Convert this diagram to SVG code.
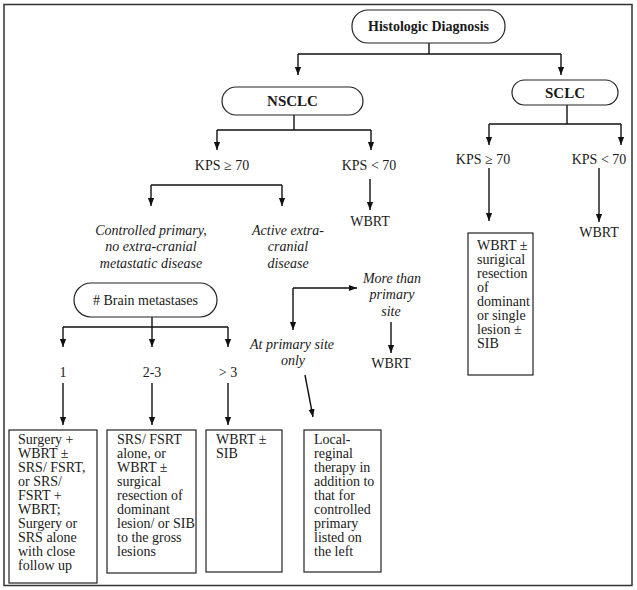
<svg xmlns="http://www.w3.org/2000/svg" width="637" height="590" viewBox="0 0 637 590" font-family="Liberation Serif, Times New Roman, serif" font-size="14">
<defs>
<marker id="ah" markerUnits="userSpaceOnUse" markerWidth="8" markerHeight="9" refX="9" refY="3.5" orient="auto" viewBox="0 0 9 7">
<path d="M0,0 L9,3.5 L0,7 z" fill="#111"/>
</marker>
<style>
text{font-family:"Liberation Serif","Times New Roman",serif;font-size:14px;fill:#1a1a1a}
.b{font-weight:bold;font-size:15px}
.h{font-size:14px}
.i{font-style:italic}
.c{text-anchor:middle}
.n{fill:#fff;stroke:#222;stroke-width:1.2}
.l{fill:none;stroke:#111;stroke-width:1.4}
.a{fill:none;stroke:#111;stroke-width:1.4;marker-end:url(#ah)}
</style>
</defs>
<rect x="0" y="0" width="637" height="590" fill="#fff"/>
<rect x="4" y="4.5" width="628" height="581" fill="none" stroke="#333" stroke-width="1.5"/>

<g id="connectors">
<path class="l" d="M429,43 V54 M298,54 H561"/>
<path class="a" d="M298,54 V75"/>
<path class="a" d="M561,54 V75"/>
<path class="l" d="M294,115 V130 M217,130 H371"/>
<path class="a" d="M217,130 V150"/>
<path class="a" d="M371,130 V150"/>
<path class="a" d="M370,179 V210"/>
<path class="l" d="M151,185 H282"/>
<path class="a" d="M151,185 V206"/>
<path class="a" d="M282,185 V206"/>
<path class="l" d="M567,105 V124 M489,124 H621"/>
<path class="a" d="M489,124 V145"/>
<path class="a" d="M621,124 V145"/>
<path class="a" d="M489,168 V221"/>
<path class="a" d="M599,168 V222"/>
<path class="l" d="M152,317 V327 M63,327 H228"/>
<path class="a" d="M63,327 V347"/>
<path class="a" d="M152,327 V347"/>
<path class="a" d="M228,327 V347"/>
<path class="a" d="M63,383 V425"/>
<path class="a" d="M152,383 V425"/>
<path class="a" d="M228,383 V425"/>
<path class="a" d="M293,288 H357"/>
<path class="a" d="M293,288 V330"/>
<path class="a" d="M391,322 V353"/>
<path class="a" d="M305,375 L313,417"/>
</g>

<g id="histologic">
<rect class="n" x="352" y="10" width="153" height="33" rx="16"/>
<text class="b h c" x="428.5" y="31">Histologic Diagnosis</text>
</g>
<g id="nsclc">
<rect class="n" x="222" y="87" width="141" height="28" rx="14"/>
<text class="b c" x="292.5" y="106">NSCLC</text>
</g>
<g id="sclc">
<rect class="n" x="512" y="80" width="106" height="25" rx="12.5"/>
<text class="b c" x="565" y="98">SCLC</text>
</g>
<g id="n-kps-high"><text class="c" x="222" y="170">KPS ≥ 70</text></g>
<g id="n-kps-low"><text class="c" x="369" y="170">KPS &lt; 70</text></g>
<g id="n-wbrt1"><text class="c" x="370" y="226">WBRT</text></g>
<g id="s-kps-high"><text class="c" x="483" y="164">KPS ≥ 70</text></g>
<g id="s-kps-low"><text class="c" x="599" y="164">KPS &lt; 70</text></g>
<g id="s-wbrt"><text class="c" x="599" y="237">WBRT</text></g>
<g id="controlled">
<text class="i c" x="151" y="235">Controlled primary,</text>
<text class="i c" x="151" y="251">no extra-cranial</text>
<text class="i c" x="151" y="268">metastatic disease</text>
</g>
<g id="active">
<text class="i c" x="288" y="235">Active extra-</text>
<text class="i c" x="288" y="251">cranial</text>
<text class="i c" x="288" y="268">disease</text>
</g>
<g id="brain">
<rect class="n" x="74" y="283" width="143" height="34" rx="17"/>
<text class="c" x="145.5" y="305"># Brain metastases</text>
</g>
<g id="more">
<text class="i c" x="392" y="283">More than</text>
<text class="i c" x="392" y="299">primary</text>
<text class="i c" x="391" y="316">site</text>
</g>
<g id="wbrt2"><text class="c" x="391" y="368">WBRT</text></g>
<g id="atprimary">
<text class="i c" x="292" y="349">At primary site</text>
<text class="i c" x="293" y="365">only</text>
</g>
<g id="one"><text class="c" x="63" y="377">1</text></g>
<g id="two3"><text class="c" x="152" y="377">2-3</text></g>
<g id="gt3"><text class="c" x="228" y="377">&gt; 3</text></g>

<g id="box1">
<rect class="n" x="9" y="430" width="88" height="153"/>
<text x="18" y="444">Surgery +</text>
<text x="18" y="458">WBRT ±</text>
<text x="18" y="472">SRS/ FSRT,</text>
<text x="18" y="486">or SRS/</text>
<text x="18" y="500">FSRT +</text>
<text x="18" y="514">WBRT;</text>
<text x="18" y="528">Surgery or</text>
<text x="18" y="542">SRS alone</text>
<text x="18" y="556">with close</text>
<text x="18" y="570">follow up</text>
</g>
<g id="box2">
<rect class="n" x="107" y="430" width="89" height="143"/>
<text x="117" y="444">SRS/ FSRT</text>
<text x="117" y="458">alone, or</text>
<text x="117" y="472">WBRT ±</text>
<text x="117" y="486">surgical</text>
<text x="117" y="500">resection of</text>
<text x="117" y="514">dominant</text>
<text x="117" y="528">lesion/ or SIB</text>
<text x="117" y="542">to the gross</text>
<text x="117" y="556">lesions</text>
</g>
<g id="box3">
<rect class="n" x="206" y="430" width="76" height="142"/>
<text x="216" y="444">WBRT ±</text>
<text x="216" y="458">SIB</text>
</g>
<g id="box4">
<rect class="n" x="304" y="430" width="77" height="142"/>
<text x="314" y="444">Local-</text>
<text x="314" y="458">reginal</text>
<text x="314" y="472">therapy in</text>
<text x="314" y="486">addition to</text>
<text x="314" y="500">that for</text>
<text x="314" y="514">controlled</text>
<text x="314" y="528">primary</text>
<text x="314" y="542">listed on</text>
<text x="314" y="556">the left</text>
</g>
<g id="box5">
<rect class="n" x="468" y="233" width="65" height="142"/>
<text x="477" y="250">WBRT ±</text>
<text x="477" y="264">surigical</text>
<text x="477" y="278">resection</text>
<text x="477" y="292">of</text>
<text x="477" y="306">dominant</text>
<text x="477" y="320">or single</text>
<text x="477" y="334">lesion ±</text>
<text x="477" y="348">SIB</text>
</g>
</svg>
